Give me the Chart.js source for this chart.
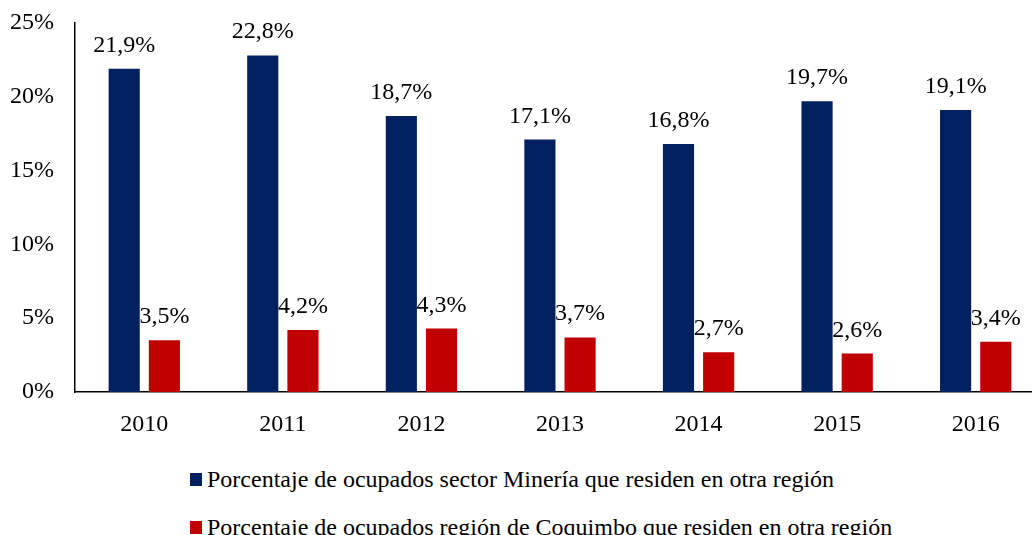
<!DOCTYPE html>
<html>
<head>
<meta charset="utf-8">
<script src="https://cdn.jsdelivr.net/npm/chart.js@4.4.1/dist/chart.umd.min.js"></script>
<style>
  body { margin: 0; overflow: hidden; background: #fff; font-family: "Times New Roman", "Liberation Serif", "DejaVu Serif", serif; }
  #wrap { position: relative; width: 1032px; height: 535px; overflow: hidden; }
  #leyenda { position: absolute; left: 190px; top: 455px; font-size: 24px; color: #000; }
  .item { display: flex; align-items: center; height: 48px; white-space: nowrap; }
  .cuadro { width: 12px; height: 13px; margin-right: 5px; }
</style>
</head>
<body>
<div id="wrap">
  <canvas id="chart" width="1045" height="445"></canvas>
  <div id="leyenda"></div>
</div>
<script>
// datos del gráfico
const anios = ['2010', '2011', '2012', '2013', '2014', '2015', '2016'];
const mineria = [21.9, 22.8, 18.7, 17.1, 16.8, 19.7, 19.1];
const coquimbo = [3.5, 4.2, 4.3, 3.7, 2.7, 2.6, 3.4];
const nombres = [
    'Porcentaje de ocupados sector Minería que residen en otra región',
    'Porcentaje de ocupados región de Coquimbo que residen en otra región'
];
const colores = ['#002060', '#C00000'];

const fuente = { family: '"Times New Roman", "Liberation Serif", "DejaVu Serif", serif', size: 24 };
const formato = (v) => v.toFixed(1).replace('.', ',') + '%';

// etiquetas de valores encima de las barras (las rojas quedan detrás de las azules)
const dibujarEtiquetas = (chart, indice) => {
    const ctx = chart.ctx;
    const meta = chart.getDatasetMeta(indice);
    ctx.save();
    ctx.font = `${fuente.size}px ${fuente.family}`;
    ctx.fillStyle = '#000';
    ctx.textAlign = 'center';
    ctx.textBaseline = 'alphabetic';
    meta.data.forEach((barra, i) => {
        ctx.fillText(formato(chart.data.datasets[indice].data[i]), barra.x, barra.y - 17);
    });
    ctx.restore();
};

const etiquetas = {
    id: 'etiquetas',
    beforeDatasetsDraw(chart) { dibujarEtiquetas(chart, 1); },
    afterDatasetsDraw(chart) { dibujarEtiquetas(chart, 0); }
};

new Chart(document.getElementById('chart').getContext('2d'), {
    type: 'bar',
    data: {
        labels: anios,
        datasets: [
            { label: nombres[0], data: mineria, backgroundColor: colores[0], categoryPercentage: 0.58, barPercentage: 0.775 },
            { label: nombres[1], data: coquimbo, backgroundColor: colores[1], categoryPercentage: 0.58, barPercentage: 0.775 }
        ]
    },
    options: {
        responsive: false,
        animation: false,
        layout: { padding: { top: 23, right: 0, bottom: 0, left: 0 } },
        plugins: { legend: { display: false }, tooltip: { enabled: false } },
        scales: {
            x: {
                grid: { display: false, drawTicks: false },
                border: { color: '#000', width: 1.5 },
                ticks: { color: '#000', font: fuente, padding: 18 },
                afterFit: (s) => { s.height = 53; }
            },
            y: {
                min: 0, max: 25,
                grid: { display: false, drawTicks: false },
                border: { color: '#000', width: 1.5 },
                ticks: { color: '#000', font: fuente, padding: 21, stepSize: 5, callback: (v) => v + '%' },
                afterFit: (s) => { s.width = 75; s.paddingTop = 0; s.paddingBottom = 0; }
            }
        }
    },
    plugins: [etiquetas]
});

// leyenda en HTML, alineada a la izquierda como en el original
const leyenda = document.getElementById('leyenda');
nombres.forEach((n, i) => {
    leyenda.innerHTML += `<div class="item"><span class="cuadro" style="background:${colores[i]}"></span>${n}</div>`;
});
</script>
</body>
</html>
